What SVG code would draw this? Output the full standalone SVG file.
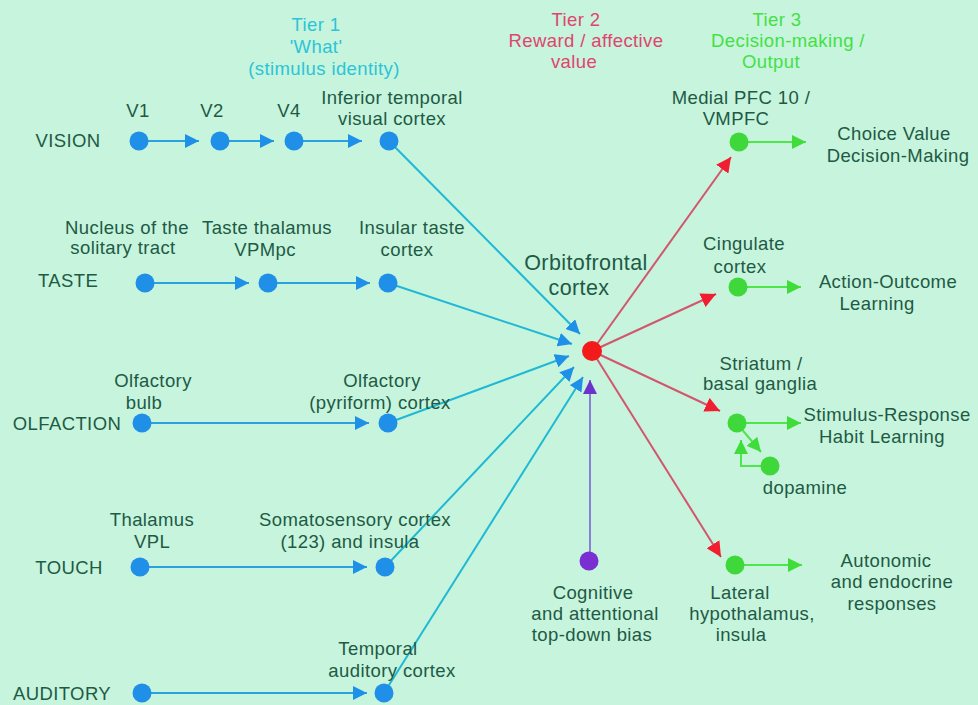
<svg xmlns="http://www.w3.org/2000/svg" width="978" height="705" viewBox="0 0 978 705">
  <defs>
    <marker id="ah-blue" viewBox="0 0 14 14" markerWidth="14" markerHeight="14" refX="14" refY="7" orient="auto" markerUnits="userSpaceOnUse">
      <path d="M0,0 L14,7 L0,14 z" fill="#1f90e8"/>
    </marker>
    <marker id="ah-red" viewBox="0 0 14 14" markerWidth="15" markerHeight="15" refX="14" refY="7" orient="auto" markerUnits="userSpaceOnUse">
      <path d="M0,0 L14,7 L0,14 z" fill="#f01e30"/>
    </marker>
    <marker id="ah-purple" viewBox="0 0 14 14" markerWidth="14" markerHeight="14" refX="14" refY="7" orient="auto" markerUnits="userSpaceOnUse">
      <path d="M0,0 L14,7 L0,14 z" fill="#6a34cc"/>
    </marker>
    <marker id="ah-green" viewBox="0 0 14 14" markerWidth="14" markerHeight="14" refX="14" refY="7" orient="auto" markerUnits="userSpaceOnUse">
      <path d="M0,0 L14,7 L0,14 z" fill="#3fdc3a"/>
    </marker>
  </defs>
  <style>
    text { font-family: "Liberation Sans", Arial, sans-serif; font-size: 18.5px; fill: #1e5a44; text-anchor: middle; letter-spacing: 0.4px; }
    .sense { text-anchor: middle; }
    .big { font-size: 21.5px; }
    .t1 { fill: #2cc4d6; }
    .t2 { fill: #e0456e; }
    .t3 { fill: #44e044; }
    .n-blue { fill: #1f8fe8; }
    .n-red { fill: #f21a1a; }
    .n-purple { fill: #7a2fd2; }
    .n-green { fill: #3fd83a; }
    .c-row { stroke: #2aa2e0; stroke-width: 2; fill: none; marker-end: url(#ah-blue); }
    .c-in { stroke: #20b8d4; stroke-width: 2; fill: none; marker-end: url(#ah-blue); }
    .c-out { stroke: #d2566e; stroke-width: 2; fill: none; marker-end: url(#ah-red); }
    .c-bias { stroke: #8c7fd6; stroke-width: 2; fill: none; marker-end: url(#ah-purple); }
    .c-act { stroke: #4ee64a; stroke-width: 2; fill: none; marker-end: url(#ah-green); }
  </style>

  <rect x="0" y="0" width="978" height="705" fill="#c6f4dd"/>

  <!-- tier headings -->
  <g id="tier1">
    <text class="t1" x="316" y="31">Tier 1</text>
    <text class="t1" x="316" y="53">'What'</text>
    <text class="t1" x="324" y="75">(stimulus identity)</text>
  </g>
  <g id="tier2">
    <text class="t2" x="576" y="26">Tier 2</text>
    <text class="t2" x="586" y="47">Reward / affective</text>
    <text class="t2" x="574" y="68">value</text>
  </g>
  <g id="tier3">
    <text class="t3" x="777" y="26">Tier 3</text>
    <text class="t3" x="788" y="47">Decision-making /</text>
    <text class="t3" x="771" y="68">Output</text>
  </g>

  <!-- sensory modality labels -->
  <g id="modalities">
    <text class="sense" x="68" y="147">VISION</text>
    <text class="sense" x="68" y="287">TASTE</text>
    <text class="sense" x="67" y="430">OLFACTION</text>
    <text class="sense" x="69" y="574">TOUCH</text>
    <text class="sense" x="62" y="700">AUDITORY</text>
  </g>

  <!-- connectors -->
  <g id="connectors">
    <!-- vision -->
    <line class="c-row" x1="139" y1="141" x2="199" y2="141"/>
    <line class="c-row" x1="220" y1="141" x2="274" y2="141"/>
    <line class="c-row" x1="294" y1="141" x2="362" y2="141"/>
    <!-- taste -->
    <line class="c-row" x1="145" y1="283" x2="249" y2="283"/>
    <line class="c-row" x1="268" y1="283" x2="370" y2="283"/>
    <!-- olfaction -->
    <line class="c-row" x1="142" y1="423" x2="369" y2="423"/>
    <!-- touch -->
    <line class="c-row" x1="140" y1="567" x2="367" y2="567"/>
    <!-- auditory -->
    <line class="c-row" x1="142" y1="693" x2="367" y2="693"/>

    <!-- tier 1 into orbitofrontal cortex -->
    <line class="c-in" x1="389" y1="141" x2="580" y2="334"/>
    <line class="c-in" x1="388" y1="283" x2="572" y2="344"/>
    <line class="c-in" x1="388" y1="423" x2="569" y2="356"/>
    <line class="c-in" x1="385" y1="567" x2="574" y2="367"/>
    <line class="c-in" x1="384" y1="693" x2="583" y2="377"/>

    <!-- top-down bias -->
    <line class="c-bias" x1="590" y1="561" x2="590" y2="380"/>

    <!-- orbitofrontal cortex to tier 3 -->
    <line class="c-out" x1="592" y1="351" x2="731" y2="157"/>
    <line class="c-out" x1="592" y1="351" x2="716" y2="294"/>
    <line class="c-out" x1="592" y1="351" x2="720" y2="411"/>
    <line class="c-out" x1="592" y1="351" x2="721" y2="557"/>

    <!-- outputs -->
    <line class="c-act" x1="739" y1="142" x2="806" y2="142"/>
    <line class="c-act" x1="738" y1="287" x2="801" y2="287"/>
    <line class="c-act" x1="737" y1="423" x2="801" y2="423"/>
    <line class="c-act" x1="735" y1="565" x2="802" y2="565"/>
    <line class="c-act" x1="739" y1="426" x2="761" y2="452"/>
    <polyline class="c-act" points="770,466 741,466 741,440"/>
  </g>

  <!-- vision nodes -->
  <g id="v1"><circle class="n-blue" cx="139" cy="141" r="9.5"/><text x="138" y="117">V1</text></g>
  <g id="v2"><circle class="n-blue" cx="220" cy="141" r="9.5"/><text x="212" y="117">V2</text></g>
  <g id="v4"><circle class="n-blue" cx="294" cy="141" r="9.5"/><text x="289" y="117">V4</text></g>
  <g id="it-cortex"><circle class="n-blue" cx="389" cy="141" r="9.5"/>
    <text x="392" y="104">Inferior temporal</text><text x="392" y="125">visual cortex</text></g>

  <!-- taste nodes -->
  <g id="nts"><circle class="n-blue" cx="145" cy="283" r="9.5"/>
    <text x="127" y="234">Nucleus of the</text><text x="123" y="254">solitary tract</text></g>
  <g id="vpmpc"><circle class="n-blue" cx="268" cy="283" r="9.5"/>
    <text x="267" y="234">Taste thalamus</text><text x="265" y="256">VPMpc</text></g>
  <g id="insular"><circle class="n-blue" cx="388" cy="283" r="9.5"/>
    <text x="412" y="234">Insular taste</text><text x="407" y="256">cortex</text></g>

  <!-- olfaction nodes -->
  <g id="olf-bulb"><circle class="n-blue" cx="142" cy="423" r="9.5"/>
    <text x="153" y="387">Olfactory</text><text x="144" y="409">bulb</text></g>
  <g id="pyriform"><circle class="n-blue" cx="388" cy="423" r="9.5"/>
    <text x="382" y="387">Olfactory</text><text x="380" y="409">(pyriform) cortex</text></g>

  <!-- touch nodes -->
  <g id="vpl"><circle class="n-blue" cx="140" cy="567" r="9.5"/>
    <text x="152" y="526">Thalamus</text><text x="152" y="548">VPL</text></g>
  <g id="somatosensory"><circle class="n-blue" cx="385" cy="567" r="9.5"/>
    <text x="355" y="526">Somatosensory cortex</text><text x="350" y="548">(123) and insula</text></g>

  <!-- auditory nodes -->
  <g id="aud-start"><circle class="n-blue" cx="142" cy="693" r="9.5"/></g>
  <g id="aud-cortex"><circle class="n-blue" cx="384" cy="693" r="9.5"/>
    <text x="378" y="655">Temporal</text><text x="392" y="677">auditory cortex</text></g>

  <!-- orbitofrontal cortex -->
  <g id="ofc"><circle class="n-red" cx="592" cy="351" r="10"/>
    <text class="big" x="586" y="270">Orbitofrontal</text><text class="big" x="579" y="295">cortex</text></g>

  <!-- top-down bias -->
  <g id="bias"><circle class="n-purple" cx="589" cy="561" r="9.5"/>
    <text x="593" y="599">Cognitive</text><text x="595" y="620">and attentional</text><text x="592" y="641">top-down bias</text></g>

  <!-- tier 3 nodes -->
  <g id="vmpfc"><circle class="n-green" cx="739" cy="142" r="9.5"/>
    <text x="741" y="104">Medial PFC 10 /</text><text x="736" y="125">VMPFC</text>
    <text x="894" y="140">Choice Value</text><text x="898" y="162">Decision-Making</text></g>
  <g id="cingulate"><circle class="n-green" cx="738" cy="287" r="9.5"/>
    <text x="744" y="250">Cingulate</text><text x="740" y="273">cortex</text>
    <text x="888" y="288">Action-Outcome</text><text x="877" y="310">Learning</text></g>
  <g id="striatum"><circle class="n-green" cx="737" cy="423" r="9.5"/>
    <text x="761" y="370">Striatum /</text><text x="760" y="390">basal ganglia</text>
    <text x="887" y="421">Stimulus-Response</text><text x="882" y="443">Habit Learning</text></g>
  <g id="dopamine"><circle class="n-green" cx="770" cy="466" r="9.5"/>
    <text x="805" y="494">dopamine</text></g>
  <g id="hypothalamus"><circle class="n-green" cx="735" cy="565" r="9.5"/>
    <text x="740" y="599">Lateral</text><text x="752" y="620">hypothalamus,</text><text x="741" y="641">insula</text>
    <text x="886" y="567">Autonomic</text><text x="892" y="588">and endocrine</text><text x="892" y="610">responses</text></g>
</svg>
